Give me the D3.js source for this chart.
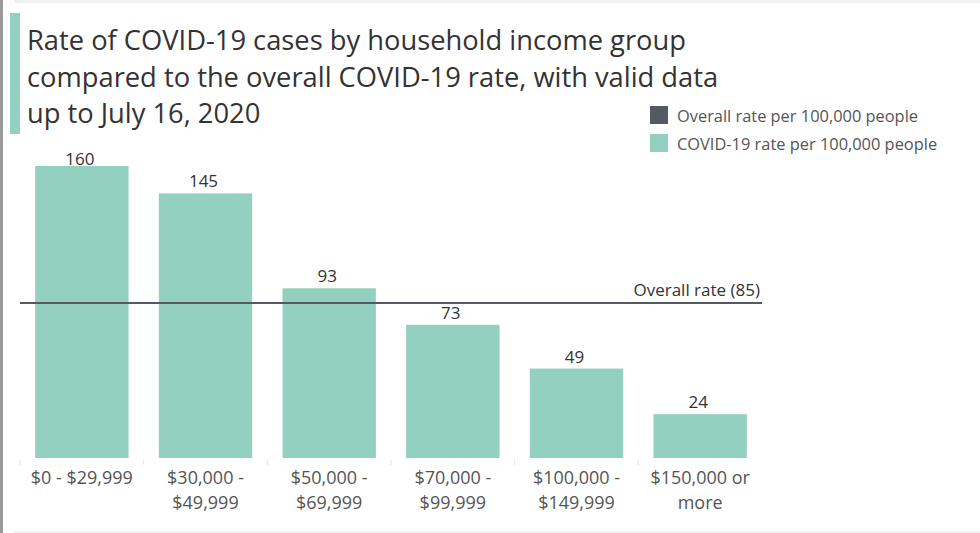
<!DOCTYPE html>
<html><head><meta charset="utf-8">
<script src="https://cdn.jsdelivr.net/npm/d3@7"></script>
<style>body{margin:0;background:#fff}svg{display:block}</style>
</head><body>
<script>
const categories = [["$0 - $29,999"],["$30,000 -","$49,999"],["$50,000 -","$69,999"],["$70,000 -","$99,999"],["$100,000 -","$149,999"],["$150,000 or","more"]];
const rates = [160,145,93,73,49,24];
const overallRate = 85;
const titleLines = ["Rate of COVID-19 cases by household income group","compared to the overall COVID-19 rate, with valid data","up to July 16, 2020"];
const legendItems = ["Overall rate per 100,000 people","COVID-19 rate per 100,000 people"];

const W=980,H=533;
const font="'Open Sans', sans-serif";
const teal="#94d0bf", dark="#555961";
const svg=d3.select("body").append("svg").attr("width",W).attr("height",H);

// frame
svg.append("rect").attr("x",0).attr("y",0).attr("width",3).attr("height",H).attr("fill","#9a9a9a");
svg.append("rect").attr("x",14).attr("y",0).attr("width",W-14).attr("height",3).attr("fill","#f0f0f0");
svg.append("rect").attr("x",14).attr("y",H-2).attr("width",W-14).attr("height",2).attr("fill","#f0f0f0");
svg.append("rect").attr("x",10).attr("y",13).attr("width",10).attr("height",121).attr("fill",teal);

// title
svg.append("g").selectAll("text").data(titleLines).join("text")
  .attr("x",27).attr("y",(d,i)=>50+i*36.5)
  .attr("font-family",font).attr("font-size",27.3).attr("fill","#333")
  .text(d=>d);

// legend
const lg=svg.append("g").attr("transform","translate(650,106)");
lg.selectAll("rect").data(legendItems).join("rect")
  .attr("x",0).attr("y",(d,i)=>i*28).attr("width",18).attr("height",18)
  .attr("fill",(d,i)=>i===0?dark:teal);
lg.selectAll("text").data(legendItems).join("text")
  .attr("x",27).attr("y",(d,i)=>i*28+16)
  .attr("font-family",font).attr("font-size",16.4).attr("fill","#555")
  .text(d=>d);

// scales
const x=d3.scaleBand().domain(d3.range(categories.length)).range([20,762]).padding(0);
const y=d3.scaleLinear().domain([0,160]).range([458,166]);
const bw=x.bandwidth()*0.755;

svg.append("g").selectAll("rect").data(rates).join("rect")
  .attr("x",(d,i)=>x(i)+(x.bandwidth()-bw)/2).attr("width",bw)
  .attr("y",d=>y(d)).attr("height",d=>y(0)-y(d)).attr("fill",teal);

svg.append("g").selectAll("text").data(rates).join("text")
  .attr("x",(d,i)=>x(i)+x.bandwidth()/2-2).attr("y",d=>Math.max(y(d)-6,165))
  .attr("text-anchor","middle").attr("font-family",font).attr("font-size",17).attr("fill","#333")
  .text(d=>d);

// ticks
svg.append("g").selectAll("line").data(d3.range(categories.length)).join("line")
  .attr("x1",i=>x(i)).attr("x2",i=>x(i)).attr("y1",460).attr("y2",465)
  .attr("stroke","#e3e3e3").attr("stroke-width",1);

const lab=svg.append("g").selectAll("text").data(categories).join("text")
  .attr("x",(d,i)=>x(i)+x.bandwidth()/2).attr("y",484)
  .attr("text-anchor","middle").attr("font-family",font).attr("font-size",18).attr("fill","#555");
lab.selectAll("tspan").data(d=>d).join("tspan")
  .attr("x",function(){return this.parentNode.getAttribute("x");})
  .attr("dy",(d,i)=>i===0?0:25).text(d=>d);

// overall line
svg.append("line").attr("x1",x.range()[0]).attr("x2",x.range()[1])
  .attr("y1",y(overallRate)).attr("y2",y(overallRate)).attr("stroke",dark).attr("stroke-width",2);
svg.append("text").attr("x",760).attr("y",y(overallRate)-7).attr("text-anchor","end")
  .attr("font-family",font).attr("font-size",17).attr("fill","#333")
  .text(`Overall rate (${overallRate})`);
</script>
</body></html>
